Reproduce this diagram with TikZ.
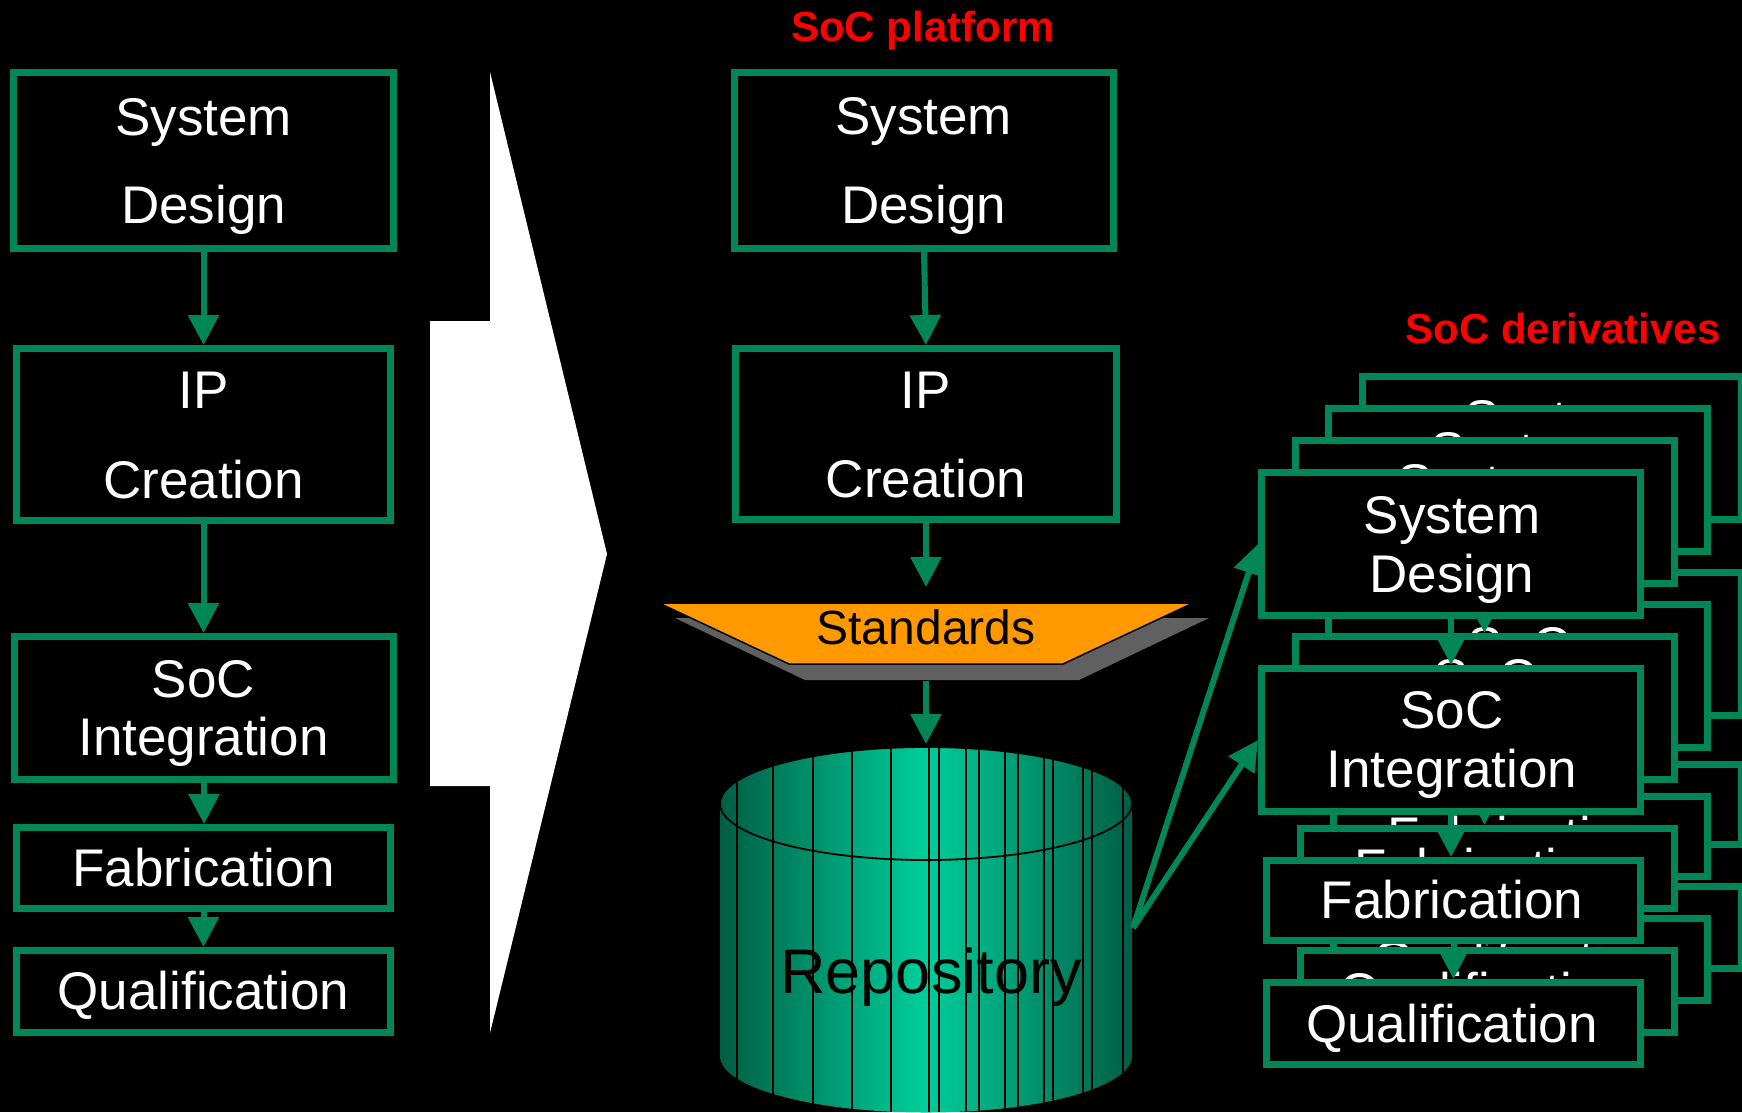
\documentclass[tikz,border=0pt]{standalone}
\usepackage{fontspec}
\setmainfont{Liberation Sans}
\usetikzlibrary{arrows.meta}

\definecolor{flowgreen}{RGB}{0,134,87}
\definecolor{stdorange}{RGB}{255,153,0}
\definecolor{stdshadow}{RGB}{96,96,96}
\definecolor{cyldark}{RGB}{0,94,68}
\definecolor{cylbright}{RGB}{0,206,155}
\definecolor{titlered}{RGB}{255,0,0}

\newcommand{\stagefont}{\fontsize{53}{60}\selectfont}

\tikzset{
  stage/.style={draw=flowgreen, line width=7pt, fill=black, inner sep=0pt},
  flow/.style={draw=flowgreen, line width=6pt, -{Triangle[width=30pt,length=30pt]}},
  lbl/.style={text=white, font=\stagefont, inner sep=0pt, anchor=base},
  title/.style={text=titlered, font=\fontsize{42}{48}\selectfont\bfseries, inner sep=0pt, anchor=base},
}

\begin{document}
\begin{tikzpicture}[x=1pt, y=-1pt]
\useasboundingbox (0,0) rectangle (1742,1112);
\fill[black] (0,0) rectangle (1742,1112);

% ---------- classic flow (left) ----------
\node[stage, minimum width=380pt, minimum height=176pt] (L-SD)  at (203.5,160.5) {};
\node[stage, minimum width=374pt, minimum height=172pt] (L-IP)  at (203.5,434.5) {};
\node[stage, minimum width=379pt, minimum height=143pt] (L-SoC) at (204,708) {};
\node[stage, minimum width=374pt, minimum height=81pt]  (L-Fab) at (203.5,868) {};
\node[stage, minimum width=374pt, minimum height=82pt]  (L-Qua) at (203.5,991.5) {};

\node[lbl] (L-SD-a)  at (203.5,135) {System};
\node[lbl] (L-SD-b)  at (203.5,223) {Design};
\node[lbl] (L-IP-a)  at (203.5,408) {IP};
\node[lbl] (L-IP-b)  at (203.5,498) {Creation};
\node[lbl] (L-SoC-a) at (203.5,697) {SoC};
\node[lbl] (L-SoC-b) at (203.5,755) {Integration};
\node[lbl] (L-Fab-a) at (203.5,886) {Fabrication};
\node[lbl] (L-Qua-a) at (203.5,1009) {Qualification};

\draw[flow] (L-SD.south)  -- (L-SD.south |- L-IP.north);
\draw[flow] (L-IP.south)  -- (L-IP.south |- L-SoC.north);
\draw[flow] (L-SoC.south) -- (L-SoC.south |- L-Fab.north);
\draw[flow] (L-Fab.south) -- (L-Fab.south |- L-Qua.north);

% ---------- transition arrow ----------
\fill[white] (490,72) -- (607,554) -- (490,1033) -- (490,786) -- (430,786)
  -- (430,321) -- (490,321) -- cycle;

% ---------- platform (middle) ----------
\node[title] (plat-title) at (923,41) {SoC platform};

\node[stage, minimum width=379pt, minimum height=176pt] (M-SD) at (924,160.5) {};
\node[stage, minimum width=381pt, minimum height=171pt] (M-IP) at (926,434) {};
\node[lbl] (M-SD-a) at (923.5,134) {System};
\node[lbl] (M-SD-b) at (923.5,223) {Design};
\node[lbl] (M-IP-a) at (926,408) {IP};
\node[lbl] (M-IP-b) at (926,497) {Creation};

\draw[flow] (M-SD.south) -- (M-IP.north);

% standards funnel with its drop shadow
\fill[stdshadow] (675,618) -- (1209,618) -- (1079,680) -- (805,680) -- cycle;
\draw[fill=stdorange, draw=black, line width=1.5pt]
  (659,603) -- (1193,603) -- (1063,664) -- (789,664) -- cycle;
\node[text=black, font=\fontsize{48}{54}\selectfont, inner sep=0pt, anchor=base]
  (std) at (926,644) {Standards};
\coordinate (std-in)  at (926,587);
\coordinate (std-out) at (926,681);
\coordinate (repo-top) at (926,744);
\draw[flow] (M-IP.south) -- (std-in);
\draw[flow] (std-out) -- (repo-top);

% repository cylinder
\def\cylpath{(720,803.5) -- (720,1056)
  arc[start angle=180, end angle=360, x radius=206pt, y radius=56.5pt]
  -- (1132,803.5)
  arc[start angle=0, end angle=180, x radius=206pt, y radius=56.5pt] -- cycle}
\shade[left color=cyldark, right color=cyldark, middle color=cylbright] \cylpath;
\begin{scope}
  \clip \cylpath;
  \foreach \xx in {737,773,813,852,891,929,939,966,979,1005,1018,1044,1053,1083,1092,1123}{
    \draw[black, line width=1.3pt] (\xx,740) -- (\xx,1112);
  }
\end{scope}
\draw[black, line width=1.8pt] (926,803.5) ellipse [x radius=206pt, y radius=56.5pt];
\node[text=black, font=\fontsize{63}{70}\selectfont, inner sep=0pt, anchor=base]
  (repo) at (931,993) {Repository};
\coordinate (repo-out) at (1133,928);

% ---------- derivatives (right), stacked copies back to front ----------
\node[title] (deriv-title) at (1563,343) {SoC derivatives};

\foreach \k in {3,2,1,0}{
  \begin{scope}[shift={(33.5*\k,-32*\k)}]
    \node[stage, minimum width=379pt, minimum height=143pt] (R\k-SD)  at (1451,544) {};
    \node[stage, minimum width=379pt, minimum height=143pt] (R\k-SoC) at (1451,740) {};
    \node[stage, minimum width=374pt, minimum height=80pt]  (R\k-Fab) at (1453.5,900.5) {};
    \node[stage, minimum width=374pt, minimum height=82pt]  (R\k-Qua) at (1453.5,1023.5) {};
    \draw[flow] (R\k-SD.south)  -- (R\k-SD.south |- R\k-SoC.north);
    \draw[flow] (R\k-SoC.south) -- (R\k-SoC.south |- R\k-Fab.north);
    \draw[flow] (R\k-Fab.south) -- (R\k-Fab.south |- R\k-Qua.north);
    \node[lbl] (R\k-SD-a)  at (1452,533)  {System};
    \node[lbl] (R\k-SD-b)  at (1452,592)  {Design};
    \node[lbl] (R\k-SoC-a) at (1452,728)  {SoC};
    \node[lbl] (R\k-SoC-b) at (1452,787)  {Integration};
    \node[lbl] (R\k-Fab-a) at (1452,918)  {Fabrication};
    \node[lbl] (R\k-Qua-a) at (1452,1042) {Qualification};
  \end{scope}
}

\draw[flow] (repo-out) -- (R0-SD.west);
\draw[flow] (repo-out) -- (R0-SoC.west);
\end{tikzpicture}
\end{document}
